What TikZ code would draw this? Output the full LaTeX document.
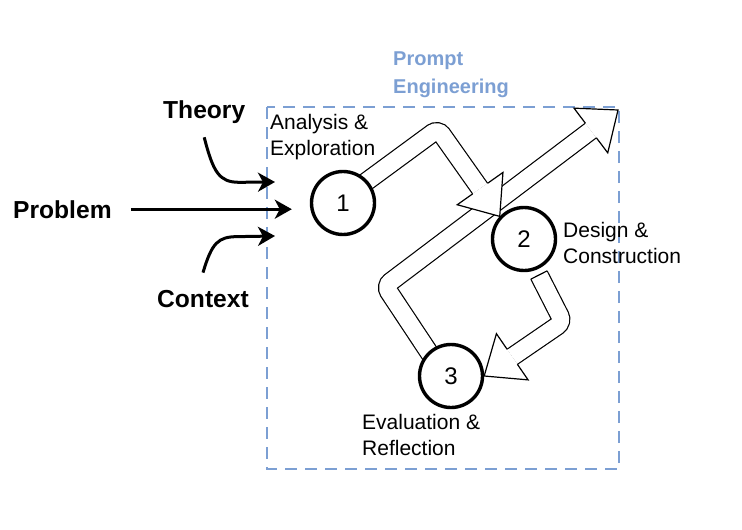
\documentclass[tikz,border=0pt]{standalone}
\usepackage{fontspec}
\setmainfont{Liberation Sans}
\usetikzlibrary{arrows.meta,calc,backgrounds}
\definecolor{promptblue}{HTML}{7C9FD3}

\begin{document}
\begin{tikzpicture}[x=1pt, y=-1pt,
    phase/.style={draw, circle, line width=3.4pt, fill=white, minimum size=63pt, inner sep=0pt, font=\fontsize{24}{24}\selectfont},
    lbl/.style={anchor=base west, inner sep=0pt, align=left, font=\fontsize{21}{26}\selectfont},
    input/.style={anchor=base west, inner sep=0pt, font=\fontsize{24.6}{25}\selectfont\bfseries},
    feed/.style={line width=3pt, -{Stealth[length=17pt, width=19pt, inset=5pt]}},
    shaft/.style={line width=1.2pt, double=white, double distance=17pt, rounded corners=7pt},
    head/.style={line width=1.2pt, fill=white, line join=miter},
  ]
  \useasboundingbox (0,0) rectangle (742,530);

  \node[lbl, text=promptblue, font=\fontsize{20}{28}\selectfont\bfseries] (pe) at (393,93) {Prompt\\Engineering};

  % Inputs
  \node[input] (theory) at (163,118) {Theory};
  \node[input] (problem) at (13,218) {Problem};
  \node[input] (context) at (157,307) {Context};

  % Phases
  \node[phase] (c1) at (343,203) {1};
  \node[phase] (c2) at (524,239) {2};
  \node[phase] (c3) at (451,376) {3};
  \node[lbl] (an) at (270,155) {Analysis \&\\Exploration};
  \node[lbl] (dc) at (563,263) {Design \&\\Construction};
  \node[lbl] (er) at (362,455) {Evaluation \&\\Reflection};

  \coordinate (tin) at (275,182);
  \coordinate (cin) at (275,236);
  \draw[feed, shorten <=19pt, shorten >=18pt] (problem.east) -- (problem.east -| c1.west);
  \draw[feed] ($(theory.south)+(0,14)$) .. controls +(9,35) and +(-20,0) .. ++(35,45) -- (tin);
  \draw[feed] ($(context.north)+(0,-17)$) .. controls +(9,-30) and +(-20,0) .. ++(35,-36) -- (cin);

  \begin{scope}[on background layer]
  % Prompt engineering frame
  \draw[promptblue, line width=1.8pt, dash pattern=on 12pt off 8pt] (267,107) rectangle (619,469);

  % Long arrow out of the frame
  \coordinate (s2) at ($(c3)+(-7,-1)$);
  \coordinate (k2) at (385,286);
  \coordinate (t2) at (618,110);
  \coordinate (b2) at ($(t2)!34pt!(k2)$);
  \draw[shaft] (s2) -- (k2) -- (b2);
  \draw[head] ($(b2)!9.1pt!90:(t2)$) -- ($(b2)!28pt!90:(t2)$) -- (t2) -- ($(b2)!28pt!-90:(t2)$) -- ($(b2)!9.1pt!-90:(t2)$);

  % 1 to 2
  \coordinate (s1) at ($(c1)+(-3,-2)$);
  \coordinate (k1) at (438,129);
  \coordinate (t1) at (c2.137);
  \coordinate (b1) at ($(t1)!34pt!(k1)$);
  \draw[shaft] (s1) -- (k1) -- (b1);
  \draw[head] ($(b1)!9.1pt!90:(t1)$) -- ($(b1)!28pt!90:(t1)$) -- (t1) -- ($(b1)!28pt!-90:(t1)$) -- ($(b1)!9.1pt!-90:(t1)$);

  % 2 to 3
  \coordinate (s3) at ($(c2)+(15,36)$);
  \coordinate (k3) at (563,322);
  \coordinate (t3) at (c3.east);
  \coordinate (b3) at ($(t3)!34pt!(k3)$);
  \draw[shaft] (s3) -- (k3) -- (b3);
  \draw[line width=1.2pt] ($(s3)!9.1pt!90:(k3)$) -- ($(s3)!9.1pt!-90:(k3)$);
  \draw[head] ($(b3)!9.1pt!90:(t3)$) -- ($(b3)!28pt!90:(t3)$) -- (t3) -- ($(b3)!28pt!-90:(t3)$) -- ($(b3)!9.1pt!-90:(t3)$);
  \end{scope}
\end{tikzpicture}
\end{document}
